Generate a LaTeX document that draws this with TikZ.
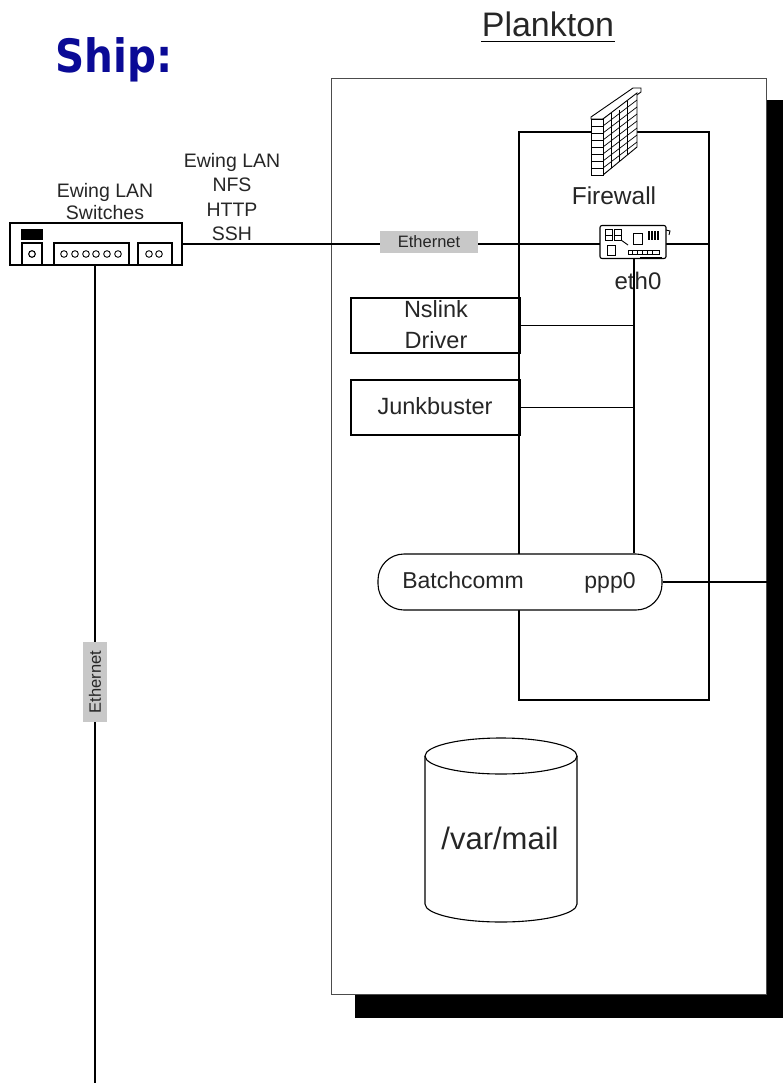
\documentclass[tikz,border=0pt]{standalone}
\usepackage{fontspec}
\setmainfont{Liberation Sans}
\newfontfamily\shipfont{DejaVu Sans}
\definecolor{shipblue}{RGB}{10,10,150}
\definecolor{lblgray}{RGB}{200,200,200}
\begin{document}
\begin{tikzpicture}[x=1pt,y=-1pt,line width=1.1pt,
  txt/.style={inner sep=0pt,text=black!85},
  box/.style={draw,inner sep=0pt},
  lbl/.style={fill=lblgray,inner sep=0pt,text=black!85,font=\fontsize{16.5}{18}\selectfont},
  conn/.style={draw,line width=1.1pt}]
\useasboundingbox (0,0) rectangle (783,1083);
% shadow and main box
\fill[black] (355,100) rectangle (783,1018);
\node (plankton) [draw=black!70,fill=white,line width=1pt,minimum width=435,minimum height=916,anchor=north west,inner sep=0pt] at (331,78) {};
% titles
\node (ship) [anchor=base west,inner sep=0pt,text=shipblue] at (55,73) {\scalebox{0.88}[1]{\shipfont\bfseries\fontsize{46}{50}\selectfont Ship:}};
\node (ptitle) [txt,anchor=base,font=\fontsize{34}{38}\selectfont] at (548,37) {Plankton};
\draw[line width=1pt] ([yshift=-5pt]ptitle.base west) -- ([yshift=-5pt]ptitle.base east);
% inner firewall box
\node (inner) [box,minimum width=190,minimum height=568] at (614,416) {};
% switch
\node (switch) [box,minimum width=172,minimum height=42] at (96,244) {};
\fill[black] (21,229) rectangle (43,240);
\draw (22,265) -- (22,243) -- (42,243) -- (42,265);
\draw (32,254) circle[radius=3.3];
\draw (54,265) -- (54,243) -- (129,243) -- (129,265);
\foreach \cx in {64,75,86,96,107,118} \draw[line width=0.9pt] (\cx,254) circle[radius=3.3];
\draw (138,265) -- (138,243) -- (172,243) -- (172,265);
\foreach \cx in {149,159} \draw[line width=0.9pt] (\cx,254) circle[radius=3.3];
\node (swlbl) [txt,align=center,font=\fontsize{19.5}{22}\selectfont] at (105,202) {Ewing LAN\\Switches};
\node (proto) [txt,align=center,font=\fontsize{19.5}{24.3}\selectfont] at (232,197) {Ewing LAN\\NFS\\HTTP\\SSH};
% ethernet horizontal
\coordinate (ethend) at (inner.east |- switch.east);
\draw (switch.east) -- (ethend);
\node (ethlbl) [lbl,minimum width=98,minimum height=22] at (429,242) {Ethernet};
% ethernet vertical
\coordinate (swbot) at (95,265);
\coordinate (swend) at (95,1083);
\draw (swbot) -- (swend);
\node (ethlbl2) [lbl,rotate=90,minimum width=80,minimum height=24] at (95,682) {Ethernet};
% components
\node (nslink) [box,minimum width=169,minimum height=55] at (435.5,325.5) {};
\node (nstxt) [txt,align=center,font=\fontsize{23.5}{31}\selectfont] at (436,324.5) {Nslink\\Driver};
\node (junk) [box,minimum width=169,minimum height=55] at (435.5,407.5) {};
\node (junktxt) [txt,font=\fontsize{23.5}{26}\selectfont] at (435,406) {Junkbuster};
\node (batch) [box,fill=white,rounded corners=26pt,minimum width=284,minimum height=56] at (520,582) {};
\node (batchtxt) [txt,anchor=base,font=\fontsize{23}{26}\selectfont] at (463,588) {Batchcomm};
\node (ppptxt) [txt,anchor=base,font=\fontsize{23}{26}\selectfont] at (610,588) {ppp0};
% NIC
\node (nic) [draw,fill=white,rounded corners=2pt,minimum width=66,minimum height=33,inner sep=0pt] at (633,242) {};
\begin{scope}[line width=0.9pt]
\draw (605,229) rectangle (612,235) (605,235) rectangle (612,240);
\draw (614,229) rectangle (621,235) (614,235) rectangle (621,240);
\draw (621,240) -- (628,245);
\draw (633,233) rectangle (642,244);
\foreach \bx in {648,651,654,657} \fill (\bx,231) rectangle (\bx+1.8,240);
\draw (607,245) rectangle (615,255);
\draw (628,250) rectangle (659,254);
\foreach \bx in {632,637,642,647,652} \draw[line width=0.6pt] (\bx,250) -- (\bx,254);
\draw[line width=1.4pt] (640,258) -- (662,258);
\draw (666,230) -- (670,231) -- (669,235);
\end{scope}
\node (eth0) [txt,anchor=base,font=\fontsize{24}{26}\selectfont] at (638,289) {eth0};
% internal connectors
\coordinate (busbot) at (batch.north -| nic.south);
\draw ([xshift=1pt]nic.south) -- ([xshift=1pt]busbot);
\draw (nslink.east) -- (nslink.east -| busbot);
\draw (junk.east) -- (junk.east -| busbot);
\draw (batch.east) -- (plankton.east |- batch.east);
% firewall icon
\begin{scope}[line width=0.9pt]
\filldraw[fill=white] (591,117) -- (633,88) -- (641,88) -- (641,92) -- (603,119) -- (591,119) -- cycle;
\filldraw[fill=white] (603,119) -- (637,93) -- (637,147) -- (603,175) -- cycle;
\begin{scope}
\clip (603,119) -- (637,93) -- (637,147) -- (603,175) -- cycle;
\foreach \k in {1,...,8} \draw[line width=0.7pt] (603,119+\k*7) -- (637,93+\k*7);
\foreach \k in {0,...,7} {
  \draw[line width=0.6pt] (611,113+\k*7) -- (611,120+\k*7);
  \draw[line width=0.6pt] (627,101+\k*7) -- (627,108+\k*7);
  \draw[line width=0.6pt] (619,110+\k*7) -- (619,117+\k*7);
}
\end{scope}
\filldraw[fill=white] (591,119) rectangle (603,175);
\foreach \k in {1,...,7} \draw[line width=0.7pt] (591,119+\k*7) -- (603,119+\k*7);
\end{scope}
\node (fwtxt) [txt,anchor=base,font=\fontsize{24.5}{27}\selectfont] at (614,205) {Firewall};
% cylinder
\draw[fill=white] (425,756) -- (425,904) arc[start angle=180,end angle=0,x radius=76,y radius=18] -- (577,756);
\draw (501,756) ellipse[x radius=76,y radius=18];
\node (mail) [txt,anchor=base,font=\fontsize{31}{34}\selectfont] at (500,849) {/var/mail};
\end{tikzpicture}
\end{document}
